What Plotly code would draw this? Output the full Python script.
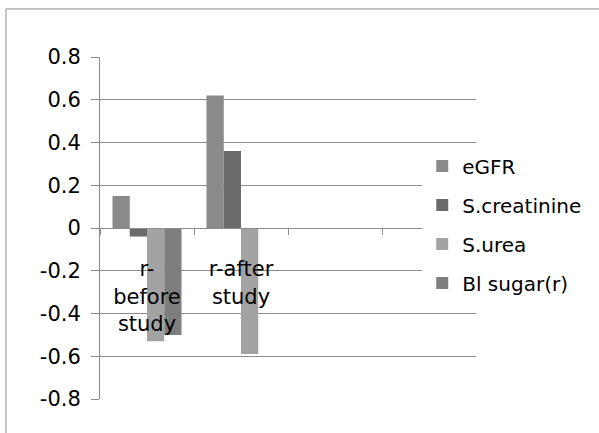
import plotly.graph_objects as go

categories = ["r-<br>before<br>study", "r-after<br>study", " ", "  "]
series_names = ["eGFR", "S.creatinine", "S.urea", "Bl sugar(r)"]
egfr = [0.15, 0.62, None, None]
s_creatinine = [-0.04, 0.36, None, None]
s_urea = [-0.53, -0.59, None, None]
bl_sugar = [-0.50, 0.0, None, None]
series_values = [egfr, s_creatinine, s_urea, bl_sugar]
colors = ["#8a8a8a", "#6b6b6b", "#a3a3a3", "#7e7e7e"]

y_tickvals = [0.8, 0.6, 0.4, 0.2, 0, -0.2, -0.4, -0.6, -0.8]
y_ticktext = ["0.8", "0.6", "0.4", "0.2", "0", "-0.2", "-0.4", "-0.6", "-0.8"]

FONT = "DejaVu Sans"
AX = "#8c8c8c"

fig = go.Figure()
for name, vals, col in zip(series_names, series_values, colors):
    fig.add_trace(go.Bar(x=categories, y=vals, name=name, marker_color=col,
                         marker_line_width=0, legendgroup=name))

fig.update_layout(
    width=599, height=433,
    margin=dict(l=100, r=123, t=57, b=34),
    paper_bgcolor="white", plot_bgcolor="white",
    barmode="group", bargap=0.266, bargroupgap=0,
    font=dict(family=FONT, size=20, color="black"),
    showlegend=True,
    legend=dict(x=0.857, xanchor="left", y=0.738, yanchor="top",
                bgcolor="white", font=dict(family=FONT, size=20),
                tracegroupgap=10, traceorder="grouped"),
    xaxis=dict(type="category", categoryorder="array", categoryarray=categories,
               anchor="free", position=0.5, showline=True, linecolor=AX, linewidth=1,
               ticks="outside", tickson="boundaries", ticklen=6, tickcolor=AX,
               showgrid=False, zeroline=False, ticklabelstandoff=22,
               tickfont=dict(family=FONT, size=21)),
    yaxis=dict(range=[-0.8, 0.8], tickvals=y_tickvals, ticktext=y_ticktext,
               showgrid=True, gridcolor=AX, gridwidth=1,
               showline=True, linecolor=AX, linewidth=1,
               ticks="outside", ticklen=8, tickcolor=AX,
               zeroline=False, ticklabelstandoff=6,
               tickfont=dict(family=FONT, size=21)),
    shapes=[dict(type="rect", xref="paper", yref="paper",
                 x0=-0.25, x1=1.34, y0=-0.15, y1=1.1404,
                 line=dict(color=AX, width=1), fillcolor="rgba(0,0,0,0)", layer="below")],
)

fig.write_html("out.html", config={"displayModeBar": False},
               post_script="document.body.style.margin='0';")
